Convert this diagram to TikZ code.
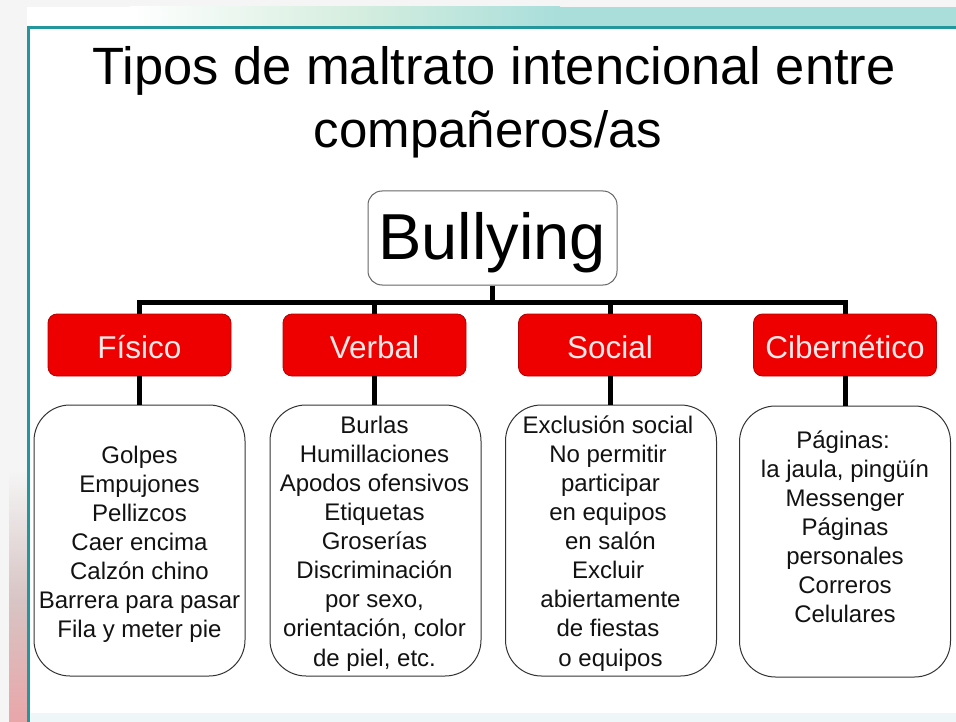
\documentclass[tikz,border=0pt]{standalone}
\usepackage{fontspec}
\setmainfont{Liberation Sans}
\definecolor{redfill}{HTML}{EE0000}
\definecolor{redline}{HTML}{B40000}
\definecolor{catText}{HTML}{FFE8E8}
\definecolor{boxline}{HTML}{333333}
\definecolor{bulline}{HTML}{666666}
\definecolor{tealline}{HTML}{23979B}
\definecolor{bandteal}{HTML}{A9DEDB}
\definecolor{bandmid}{HTML}{D6EEDF}
\definecolor{sidegrey}{HTML}{F5F5F5}
\definecolor{sidemid}{HTML}{D8C4C4}
\definecolor{sidepink}{HTML}{E9A6A9}
\definecolor{bottomband}{HTML}{EEF6F8}
\begin{document}
\begin{tikzpicture}[x=1pt,y=-1pt,
  conn/.style={line width=5pt, draw=black},
  catbox/.style={draw=redline, fill=redfill, rounded corners=9pt, line width=0.8pt,
    minimum width=183pt, minimum height=62pt, inner sep=0pt, text=catText,
    text height=26pt, text depth=0pt, font=\fontsize{31.5}{37}\selectfont},
  listbox/.style={draw=boxline, fill=white, rounded corners=36pt, line width=1pt,
    minimum width=211pt, minimum height=271pt, inner sep=0pt},
  listtext/.style={align=center, inner sep=0pt, anchor=north, text=black!93,
    font=\fontsize{24}{29.1}\selectfont},
  titletext/.style={anchor=base, inner sep=0pt}
]
% background
\useasboundingbox (0,0) rectangle (956,722);
\fill[white] (0,0) rectangle (956,722);
\fill[sidegrey] (0,0) rectangle (956,7);
\fill[sidegrey] (0,0) rectangle (27,722);
\shade[top color=sidegrey, bottom color=sidemid] (9,470) rectangle (27,600);
\shade[top color=sidemid, bottom color=sidepink] (9,600) rectangle (27,722);
\shade[left color=white, right color=bandmid] (130,7) rectangle (350,26);
\shade[left color=bandmid, right color=bandteal] (350,7) rectangle (560,26);
\fill[bandteal] (560,7) rectangle (956,26);
\fill[bottomband] (30,713) rectangle (956,722);
\draw[tealline, line width=3pt] (956,27.5) -- (28.5,27.5) -- (28.5,722);

% title
\node[titletext, font=\fontsize{52.5}{60}\selectfont] (t1) at (494,85) {Tipos de maltrato intencional entre};
\node[titletext, font=\fontsize{51}{60}\selectfont] (t2) at (488,148) {compañeros/as};

% root
\node[draw=bulline, fill=white, rounded corners=14pt, line width=1pt,
      minimum width=249pt, minimum height=94pt, inner sep=0pt] (bul) at (492.5,238) {};
\node[anchor=base, inner sep=0pt, font=\fontsize{65}{70}\selectfont] (bultext) at (492,260) {Bullying};

% categories
\node[catbox] (fis) at (139.5,345) {Físico};
\node[catbox] (ver) at (374.5,345) {Verbal};
\node[catbox] (soc) at (610,345) {Social};
\node[catbox] (cib) at (845,345) {Cibernético};

% list boxes
\node[listbox] (fisl) at (139.5,540.5) {};
\node[listbox] (verl) at (375.5,540.5) {};
\node[listbox] (socl) at (611,540.5) {};
\node[listbox] (cibl) at (845,541.5) {};

\node[listtext] (fist) at (139.5,445) {\rule{0pt}{18pt}Golpes\\Empujones\\Pellizcos\\Caer encima\\Calzón chino\\Barrera para pasar\\Fila y meter pie};
\node[listtext] (vert) at (374.5,415) {\rule{0pt}{18pt}Burlas\\Humillaciones\\Apodos ofensivos\\Etiquetas\\Groserías\\Discriminación\\por sexo,\\orientación, color\\de piel, etc.};
\node[listtext] (soct) at (608,415) {\rule{0pt}{18pt}Exclusión social\\No permitir\\\hspace*{5pt}participar\\en equipos\\\hspace*{5pt}en salón\\Excluir\\\hspace*{5pt}abiertamente\\de fiestas\\\hspace*{5pt}o equipos};
\node[listtext] (cibt) at (845,430) {\rule{0pt}{18pt}Páginas:\hspace*{4pt}\\la jaula, pingüín\\Messenger\\Páginas\hspace*{16pt}\\personales\\Correros\\Celulares};

% connectors
\coordinate (busL) at (139.5,302);
\draw[conn] (fis.north) -- (fis.north |- busL) -- (cib.north |- busL) -- (cib.north);
\draw[conn] (ver.north) -- (ver.north |- busL);
\draw[conn] (soc.north) -- (soc.north |- busL);
\draw[conn] (bul.south) -- (bul.south |- busL);
\draw[conn] (fis.south) -- (fisl.north);
\draw[conn] (ver.south) -- (ver.south |- verl.north);
\draw[conn] (soc.south) -- (soc.south |- socl.north);
\draw[conn] (cib.south) -- (cibl.north);
\end{tikzpicture}
\end{document}
